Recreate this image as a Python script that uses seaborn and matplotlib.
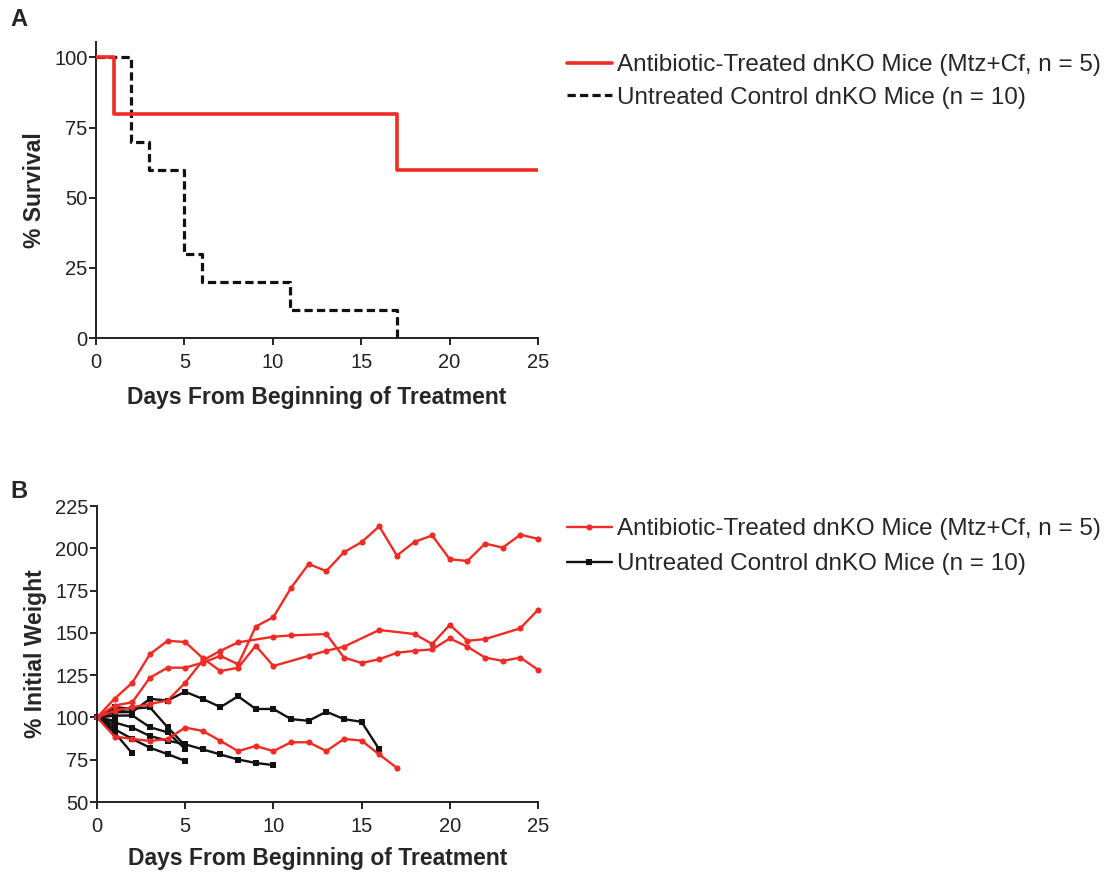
import matplotlib
matplotlib.use("Agg")
import matplotlib.pyplot as plt
from matplotlib.lines import Line2D
import numpy as np
import pandas as pd
import seaborn as sns

sns.set_style("ticks")
plt.rcParams['font.family'] = ['Liberation Sans', 'DejaVu Sans']

RED = "#ee2b24"
BLACK = "#111111"
NARROW = ['Liberation Sans Narrow', 'Liberation Sans', 'DejaVu Sans']

label_treated = "Antibiotic-Treated dnKO Mice (Mtz+Cf, n = 5)"
label_control = "Untreated Control dnKO Mice (n = 10)"
xlabel_text = "Days From Beginning of Treatment"

# ---------- Panel A: survival ----------
surv_days_treated = [0, 1, 17, 25]
surv_pct_treated = [100, 80, 60, 60]
surv_days_control = [0, 2, 3, 5, 6, 11, 17]
surv_pct_control = [100, 70, 60, 30, 20, 10, 0]

# ---------- Panel B: % initial weight per mouse ----------
t1_days = [0, 1, 2, 3, 4, 5, 6, 7, 8, 10, 11, 13, 14, 15, 16, 17, 18, 19, 20, 21, 22, 23, 24, 25]
t1_weight = [100, 104, 106, 108, 110, 120.5, 133.8, 139.4, 144.4, 147.7, 148.5, 149.3, 135.4, 132.2,
             134.4, 138.2, 139.4, 140.2, 146.7, 141.8, 135.4, 133.4, 135.4, 128.2]
t2_days = [0, 1, 2, 3, 4, 5, 6, 7, 8, 9, 10, 12, 13, 14, 16, 18, 19, 20, 21, 22, 24, 25]
t2_weight = [100, 111.1, 120.5, 137.4, 145.3, 144.6, 135, 127.4, 129.4, 142.4, 130.4, 136.4, 139.4,
             141.8, 151.7, 149.3, 143.4, 154.7, 145.3, 146.3, 152.7, 163.6]
t3_days = list(range(0, 26))
t3_weight = [100, 107, 109, 123.5, 129.4, 129.4, 132.4, 136.4, 131.4, 153.7, 159.3, 176.6, 190.7,
             186.5, 197.7, 203.6, 213, 195.7, 203.8, 207.6, 193.5, 192.5, 202.8, 200.4, 208, 205.6]
t4_days = list(range(0, 18))
t4_weight = [100, 88.7, 87.3, 86.1, 87.3, 94, 92, 86.1, 80.1, 83.1, 80.1, 85.3, 85.3, 80.1, 87.3,
             86.3, 78.1, 70.2]

c1_days = list(range(0, 17))
c1_weight = [100, 104, 103.2, 111, 110, 115.2, 110.9, 106.1, 112.5, 105, 105, 99, 98, 103.4, 99, 97.4, 81.1]
c2_days = list(range(0, 11))
c2_weight = [100, 97, 94, 89, 86.3, 84.1, 81.1, 78.1, 75.1, 73.1, 71.8]
c3_days = [0, 1, 2, 3, 4, 5]
c3_weight = [100, 106, 105.2, 106, 94.2, 83.3]
c4_days = [0, 1, 2, 3, 4, 5]
c4_weight = [100, 101, 101.2, 94.2, 91.2, 81.3]
c5_days = [0, 1, 2, 3, 4, 5]
c5_weight = [100, 93, 87.3, 82.1, 78.3, 74.3]
c6_days = [0, 1, 2]
c6_weight = [100, 91, 78.7]
c7_days = [0, 1, 2]
c7_weight = [100, 103, 103.2]
c8_days = [0, 1]
c8_weight = [100, 106]
c9_days = [0, 1]
c9_weight = [100, 95]
c10_days = [0, 1]
c10_weight = [100, 98]

treated = [(t1_days, t1_weight), (t2_days, t2_weight), (t3_days, t3_weight), (t4_days, t4_weight)]
control = [(c1_days, c1_weight), (c2_days, c2_weight), (c3_days, c3_weight), (c4_days, c4_weight),
           (c5_days, c5_weight), (c6_days, c6_weight), (c7_days, c7_weight), (c8_days, c8_weight),
           (c9_days, c9_weight), (c10_days, c10_weight)]

rows = []
for i, (d, w) in enumerate(control):
    for dd, ww in zip(d, w):
        rows.append({"day": dd, "weight": ww, "mouse": f"C{i}", "group": "Untreated"})
for i, (d, w) in enumerate(treated):
    for dd, ww in zip(d, w):
        rows.append({"day": dd, "weight": ww, "mouse": f"T{i}", "group": "Treated"})
weights = pd.DataFrame(rows)

fig = plt.figure(figsize=(11.16, 8.8), dpi=100)
W, H = 1116, 880


def ax_rect(l, t, r, b):
    return [l / W, 1 - b / H, (r - l) / W, (b - t) / H]


def style_axes(ax):
    for s in ["top", "right"]:
        ax.spines[s].set_visible(False)
    for s in ["left", "bottom"]:
        ax.spines[s].set_linewidth(1.4)
        ax.spines[s].set_color("#222222")
    ax.tick_params(axis="both", direction="out", length=5, width=1.4, color="#222222",
                   labelsize=14.5)
    ax.tick_params(axis="x", pad=6)
    ax.tick_params(axis="y", pad=1)
    for lab in ax.get_xticklabels() + ax.get_yticklabels():
        lab.set_fontfamily(NARROW)
        lab.set_color("#222222")


# ---------- Panel A ----------
axA = fig.add_axes(ax_rect(96, 42, 538, 338))
sns.lineplot(x=surv_days_treated, y=surv_pct_treated, ax=axA, color=RED, lw=2.6,
             drawstyle="steps-post", zorder=3)
sns.lineplot(x=surv_days_control, y=surv_pct_control, ax=axA, color=BLACK, lw=2.3,
             drawstyle="steps-post", linestyle=(0, (2.6, 1.3)), zorder=2)
axA.set_xlim(0, 25)
axA.set_ylim(0, 105.5)
axA.set_xticks([0, 5, 10, 15, 20, 25])
axA.set_yticks([0, 25, 50, 75, 100])
axA.set_xlabel(xlabel_text, fontsize=16.5, fontweight="bold", labelpad=10)
axA.set_ylabel("% Survival", fontsize=16.5, fontweight="bold", labelpad=6)
style_axes(axA)

hA = [Line2D([], [], color=RED, lw=2.6),
      Line2D([], [], color=BLACK, lw=2.3, linestyle=(0, (2.6, 1.3)))]
legA = axA.legend(hA, [label_treated, label_control], loc="upper left",
                  bbox_to_anchor=(567 / W, 1 - 54 / H), bbox_transform=fig.transFigure,
                  frameon=False, handlelength=1.85, handletextpad=0.2, borderaxespad=0,
                  borderpad=0, labelspacing=0.45, prop={"family": NARROW, "size": 17.5})

# ---------- Panel B ----------
axB = fig.add_axes(ax_rect(97, 506, 538, 802))
sns.lineplot(data=weights, x="day", y="weight", hue="group", style="group", units="mouse",
             estimator=None, ax=axB, palette={"Treated": RED, "Untreated": BLACK},
             markers={"Treated": "o", "Untreated": "s"}, dashes=False, lw=1.7,
             markersize=4.4, markeredgewidth=0, legend=False, sort=True)
axB.set_xlim(0, 25)
axB.set_ylim(50, 225)
axB.set_xticks([0, 5, 10, 15, 20, 25])
axB.set_yticks([50, 75, 100, 125, 150, 175, 200, 225])
axB.set_xlabel(xlabel_text, fontsize=16.5, fontweight="bold", labelpad=8)
axB.set_ylabel("% Initial Weight", fontsize=16.5, fontweight="bold", labelpad=6)
style_axes(axB)
for line in axB.lines:
    line.set_clip_on(False)

hB = [Line2D([], [], color=RED, lw=1.7, marker="o", markersize=4.4, markeredgewidth=0),
      Line2D([], [], color=BLACK, lw=1.7, marker="s", markersize=4.4, markeredgewidth=0)]
legB = axB.legend(hB, [label_treated, label_control], loc="upper left",
                  bbox_to_anchor=(567 / W, 1 - 518 / H), bbox_transform=fig.transFigure,
                  frameon=False, handlelength=1.85, handletextpad=0.2, borderaxespad=0,
                  borderpad=0, labelspacing=0.55, numpoints=1,
                  prop={"family": NARROW, "size": 17.5})

fig.text(10 / W, 1 - 19 / H, "A", fontsize=17, fontweight="bold", va="center", ha="left")
fig.text(10 / W, 1 - 491 / H, "B", fontsize=17, fontweight="bold", va="center", ha="left")

fig.savefig("out.png", dpi=100, facecolor="white")
